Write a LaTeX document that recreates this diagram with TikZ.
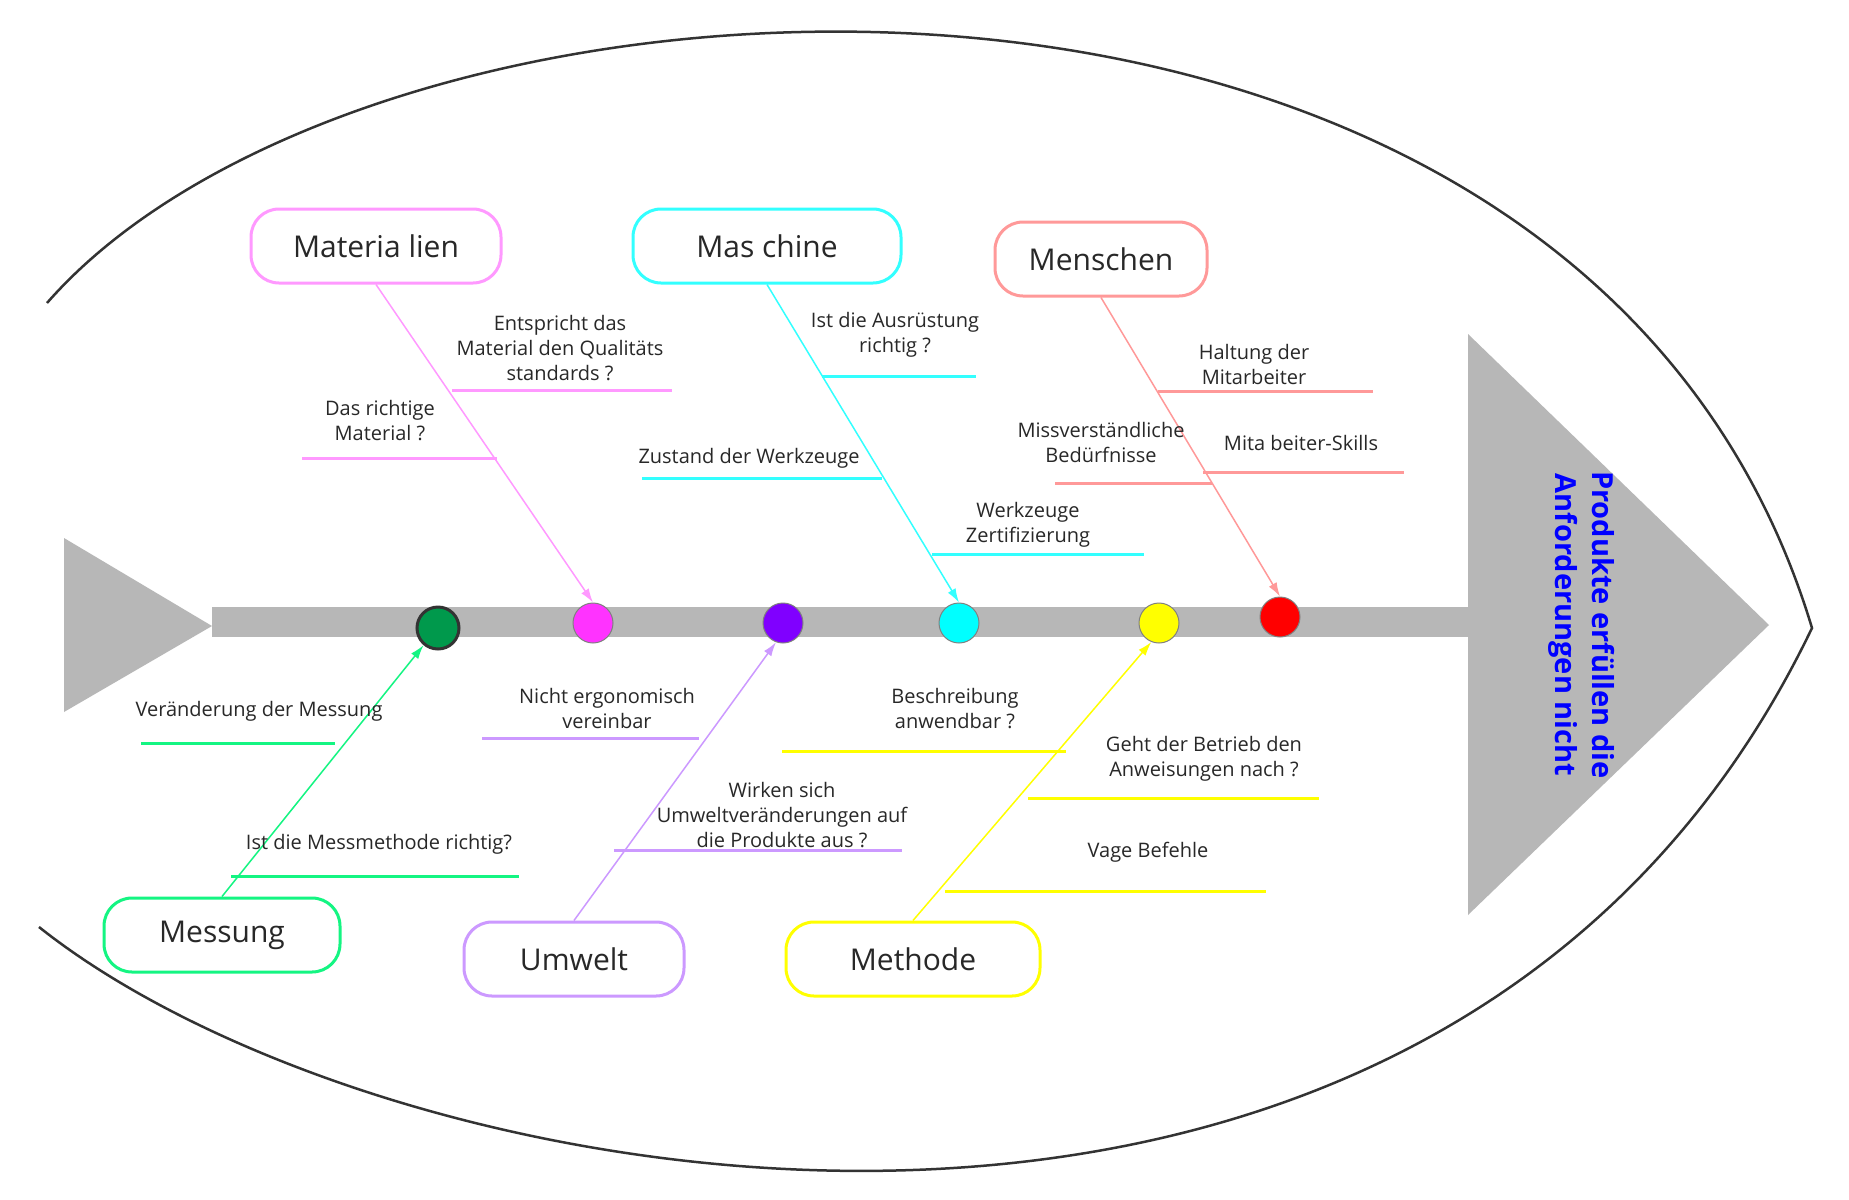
\documentclass[tikz,border=0pt]{standalone}
\usepackage{fontspec}
\setmainfont{Open Sans}
\usepackage{xcolor}
\usetikzlibrary{arrows.meta}
\usetikzlibrary{math}
\definecolor{fishgray}{RGB}{183,183,183}
\definecolor{txtgray}{RGB}{40,40,40}
\definecolor{linegray}{RGB}{51,51,51}
\definecolor{matpink}{RGB}{255,153,255}
\definecolor{mascyan}{RGB}{51,255,255}
\definecolor{mensalmon}{RGB}{255,153,153}
\definecolor{mesgreen}{RGB}{20,245,130}
\definecolor{umwlila}{RGB}{204,153,255}
\definecolor{metyellow}{RGB}{255,255,0}
\definecolor{dotgreen}{RGB}{0,153,76}
\definecolor{dotpink}{RGB}{255,51,255}
\definecolor{dotlila}{RGB}{128,0,255}
\definecolor{dotcyan}{RGB}{0,255,255}
\definecolor{dotyellow}{RGB}{255,255,0}
\definecolor{dotred}{RGB}{255,0,0}
\definecolor{headblue}{RGB}{0,0,255}

\begin{document}
\begin{tikzpicture}[x=0.5pt,y=-0.5pt,
  cause/.style={draw=#1, fill=white, line width=1.5pt, rounded corners=14pt,
    minimum height=37pt, text=txtgray, font=\fontsize{15}{18}\selectfont},
  knot/.style={circle, fill=#1, draw=gray, line width=0.5pt, minimum size=20pt, inner sep=0pt},
  bone/.style={draw=#1, line width=0.75pt, -{Latex[length=7pt,width=4.5pt]}},
  rib/.style={draw=#1, line width=1.5pt},
  ribtxt/.style={anchor=base, align=center, text=txtgray, inner sep=0pt,
    font=\fontsize{10}{12.5}\selectfont},
]
\tikzmath{
\sy=622;   % spine
\st=15;    % half thickness
\hx=1468;  % head
\tx=212;   % tail
}
\path[use as bounding box, fill=white] (0,0) rectangle (1849,1200);

%%%%%%%%%% outline
\draw[linegray, line width=1.25pt] (47,303) .. controls (376,-73) and (1581,-138) .. (1812,628)
  .. controls (1444,1394) and (391,1207) .. (39,927);

%%%%%%%%%% skeleton
\fill[fishgray] (64,538) -- (\tx,626) -- (64,712) -- cycle;
\fill[fishgray] (\tx,\sy-\st) rectangle (\hx,\sy+\st);
\fill[fishgray] (\hx,334) -- (1769,625) -- (\hx,915) -- cycle;
\node[rotate=-90, align=center, text=headblue, font=\fontsize{14.5}{18.5}\selectfont\bfseries]
  (effect) at (1582,625) {Produkte erfüllen die\\Anforderungen nicht};

\node[knot=dotgreen, draw=linegray, line width=1.5pt, minimum size=21pt] (g) at (438,628) {};
\node[knot=dotpink] (m) at (593,623) {};
\node[knot=dotlila] (p) at (783,623) {};
\node[knot=dotcyan] (c) at (959,623) {};
\node[knot=dotyellow] (y) at (1159,623) {};
\node[knot=dotred] (r) at (1280,617) {};

%%%%%%%%%% top causes
\node[cause=matpink, minimum width=125pt] (mat) at (376,246) {Materia lien};
\node[cause=mascyan, minimum width=134pt] (mas) at (767,246) {Mas chine};
\node[cause=mensalmon, minimum width=106pt] (men) at (1101,259) {Menschen};

\draw[bone=matpink] (mat.south) -- (m.north);
\draw[bone=mascyan] (mas.south) -- (c.north);
\draw[bone=mensalmon] (men.south) -- (r.north);

\draw[rib=matpink] (452,390) -- (672,390);
\node[ribtxt] (mat1) at (560,380) {Entspricht das\\Material den Qualitäts\\standards ?};
\draw[rib=matpink] (302,458) -- (497,458);
\node[ribtxt] (mat2) at (380,440) {Das richtige\\Material ?};

\draw[rib=mascyan] (822,376) -- (976,376);
\node[ribtxt] (mas1) at (895,352) {Ist die Ausrüstung\\richtig ?};
\draw[rib=mascyan] (642,478) -- (882,478);
\node[ribtxt] (mas2) at (749,463) {Zustand der Werkzeuge};
\draw[rib=mascyan] (932,554) -- (1144,554);
\node[ribtxt] (mas3) at (1028,542) {Werkzeuge\\Zertifizierung};

\draw[rib=mensalmon] (1158,391) -- (1373,391);
\node[ribtxt] (men1) at (1254,384) {Haltung der\\Mitarbeiter};
\draw[rib=mensalmon] (1055,483) -- (1212,483);
\node[ribtxt] (men2) at (1101,462) {Missverständliche\\Bedürfnisse};
\draw[rib=mensalmon] (1203,472) -- (1404,472);
\node[ribtxt] (men3) at (1301,450) {Mita beiter-Skills};

%%%%%%%%%% bottom causes
\node[cause=mesgreen, minimum width=118pt] (mes) at (222,935) {Messung};
\node[cause=umwlila, minimum width=110pt] (umw) at (574,959) {Umwelt};
\node[cause=metyellow, minimum width=127pt] (met) at (913,959) {Methode};

\draw[bone=mesgreen] (mes.north) -- (g.230);
\draw[bone=umwlila] (umw.north) -- (p.250);
\draw[bone=metyellow] (met.north) -- (y.248);

\draw[rib=mesgreen] (141,743) -- (335,743);
\node[ribtxt] (mes1) at (259,716) {Veränderung der Messung};
\draw[rib=mesgreen] (231,876) -- (519,876);
\node[ribtxt] (mes2) at (379,849) {Ist die Messmethode richtig?};

\draw[rib=umwlila] (482,738) -- (699,738);
\node[ribtxt] (umw1) at (607,728) {Nicht ergonomisch\\vereinbar};
\draw[rib=umwlila] (614,850) -- (902,850);
\node[ribtxt] (umw2) at (782,847) {Wirken sich\\Umweltveränderungen auf\\die Produkte aus ?};

\draw[rib=metyellow] (782,751) -- (1066,751);
\node[ribtxt] (met1) at (955,728) {Beschreibung\\anwendbar ?};
\draw[rib=metyellow] (1028,798) -- (1319,798);
\node[ribtxt] (met2) at (1204,776) {Geht der Betrieb den\\Anweisungen nach ?};
\draw[rib=metyellow] (945,891) -- (1266,891);
\node[ribtxt] (met3) at (1148,857) {Vage Befehle};

\end{tikzpicture}
\end{document}
